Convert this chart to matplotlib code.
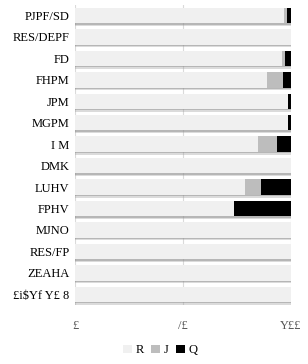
import matplotlib.pyplot as plt
import matplotlib.patheffects as pe

categories = ["PJPF/SD", "RES/DEPF", "FD", "FHPM", "JPM", "MGPM", "I M",
              "DMK", "LUHV", "FPHV", "MJNO", "RES/FP", "ZEAHA", "£i$Yf Y£ 8"]
r_vals = [97, 100, 96, 89, 99, 99, 85, 100, 79, 73.6, 100, 100, 100, 100]
j_vals = [1.5, 0, 1.5, 7.4, 0, 0, 8.5, 0, 7.4, 0, 0, 0, 0, 0]
q_vals = [1.5, 0, 2.5, 3.6, 1, 1, 6.5, 0, 13.6, 26.4, 0, 0, 0, 0]
xticks = [0, 50, 100]
xtick_labels = ["£", "/£", "Y££"]
series_names = ["R", "J", "Q"]

fig = plt.figure(figsize=(3.08, 3.64), dpi=100)
ax = fig.add_axes([0.2435, 0.162, 0.70, 0.825])

# soft drop shadow under each bar
shadow = [pe.SimplePatchShadow(offset=(0, -2), shadow_rgbFace="#9a9a9a", alpha=0.35),
          pe.SimplePatchShadow(offset=(0, -1), shadow_rgbFace="#8a8a8a", alpha=0.45),
          pe.Normal()]
y = list(range(len(categories)))
left_j = [r for r in r_vals]
left_q = [r + j for r, j in zip(r_vals, j_vals)]

b1 = ax.barh(y, r_vals, height=0.72, color="#f0f0f0", label=series_names[0], zorder=3)
b2 = ax.barh(y, j_vals, left=left_j, height=0.72, color="#bdbdbd", label=series_names[1], zorder=3)
b3 = ax.barh(y, q_vals, left=left_q, height=0.72, color="#000000", label=series_names[2], zorder=3)
for bars in (b1, b2, b3):
    for p in bars:
        p.set_path_effects(shadow)

ax.set_ylim(len(categories) - 0.5, -0.5)
ax.set_xlim(0, 100)
ax.set_yticks(y)
ax.set_yticklabels(categories, fontsize=9, family="Liberation Serif")
ax.set_xticks(xticks)
ax.set_xticklabels(xtick_labels, fontsize=9, family="Liberation Serif", color="#555555")
ax.tick_params(length=0)
ax.tick_params(axis="x", pad=11)
ax.tick_params(axis="y", pad=4)
for s in ax.spines.values():
    s.set_visible(False)
ax.set_axisbelow(False)
ax.grid(axis="x", color="#dadada", linewidth=0.8, zorder=4)

leg = fig.legend(handles=[b1, b2, b3], labels=series_names, loc="lower center",
                 bbox_to_anchor=(0.52, -0.01), ncol=3, frameon=False, handlelength=0.7,
                 handleheight=0.7, handletextpad=0.3, columnspacing=0.6,
                 prop={"family": "Liberation Serif", "size": 9})
for h in leg.legend_handles:
    h.set_path_effects([])

plt.savefig("out.png", dpi=100)
